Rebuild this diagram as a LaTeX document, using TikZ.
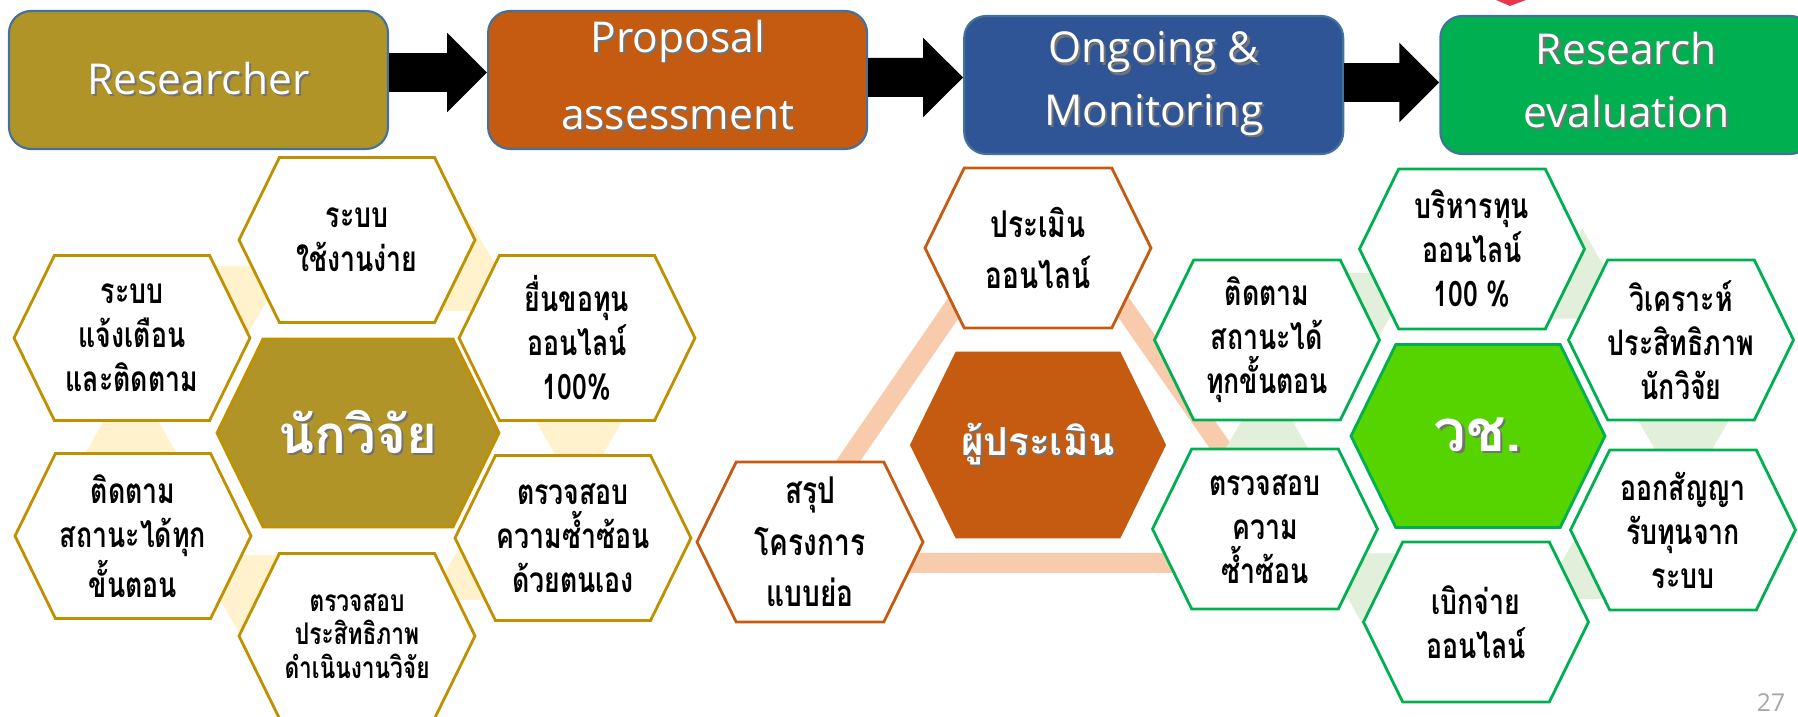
\documentclass[tikz,border=0pt]{standalone}
\usepackage{fontspec}
\newfontfamily\thaifont[Script=Thai]{Loma}
\newfontfamily\thainarrow[Script=Thai,FakeStretch=0.76]{Loma}
\newfontfamily\latinfont{Open Sans}
\usetikzlibrary{arrows.meta,calc,positioning}
\definecolor{GoldFill}{HTML}{B09428}
\definecolor{GoldLine}{HTML}{BF9000}
\definecolor{GoldPale}{HTML}{FFF2CC}
\definecolor{RustFill}{HTML}{C55A11}
\definecolor{RustPale}{HTML}{F8CBAD}
\definecolor{NavyFill}{HTML}{2F5597}
\definecolor{BoxLine}{HTML}{41719C}
\definecolor{LeafLine}{HTML}{00B050}
\definecolor{LeafFill}{HTML}{55D400}
\definecolor{LeafPale}{HTML}{E2EFDA}
\definecolor{RedMark}{HTML}{E8364F}
\pgfdeclarelayer{ring}
\pgfdeclarelayer{tiles}
\pgfsetlayers{ring,tiles,main}
\newcommand{\Shadowed}[1]{\leavevmode\rlap{\kern0.6pt\raisebox{-0.6pt}{\textcolor{black!55}{#1}}}#1}
\newcommand{\DrawHex}[4]{%
  % #1 node name, #2 half width, #3 half height, #4 style
  \begin{pgfonlayer}{tiles}
    \draw[#4] ($(#1.center)+(-#2,0)$) -- ($(#1.center)+(-#2+0.49*#3,#3)$)
      -- ($(#1.center)+(#2-0.49*#3,#3)$) -- ($(#1.center)+(#2,0)$)
      -- ($(#1.center)+(#2-0.49*#3,-#3)$) -- ($(#1.center)+(-#2+0.49*#3,-#3)$) -- cycle;
  \end{pgfonlayer}
}
\newcommand{\DrawRing}[4]{%
  % #1 hub node, #2 fill colour of the small triangles, #3 x spread, #4 y spread
  \begin{pgfonlayer}{ring}
    \foreach \dx/\dy/\s in {1.12/1.52/1,2.21/-0.03/-1,1.23/-1.37/1,-1.12/-1.52/-1,-2.27/-0.01/1,-1.23/1.37/-1}{%
      \fill[#2] ($(#1.center)+(#3*\dx,#4*\dy+0.60*\s)$) -- ($(#1.center)+(#3*\dx-0.52,#4*\dy-0.30*\s)$)
        -- ($(#1.center)+(#3*\dx+0.52,#4*\dy-0.30*\s)$) -- cycle;
    }
  \end{pgfonlayer}
}

\begin{document}
\begin{tikzpicture}[
  stagebox/.style={rounded corners=0.22cm,draw=BoxLine,line width=0.6pt,minimum width=3.79cm,
    minimum height=1.38cm,inner sep=0pt,text=white,align=center,
    font=\latinfont\fontsize{12.1}{17.9}\selectfont},
  blockarrow/.style={black,line width=0.39cm,-{Triangle[length=0.40cm,width=0.77cm]}},
  hextext/.style={align=center,inner sep=0pt,font=\thainarrow\bfseries\fontsize{10}{12.5}\selectfont},
  hubtext/.style={align=center,inner sep=0pt,text=white,font=\thaifont\bfseries\fontsize{15}{18}\selectfont},
  ytile/.style={fill=white,draw=GoldLine,line width=0.8pt},
  otile/.style={fill=white,draw=RustFill,line width=0.8pt},
  gtile/.style={fill=white,draw=LeafLine,line width=0.8pt},
  pagenum/.style={anchor=north,inner sep=0pt,text=black!35,font=\latinfont\fontsize{7}{8}\selectfont}
]
\useasboundingbox (0,0) rectangle (17.98,-7.17);

% Stage boxes along the top
\node[stagebox,fill=GoldFill] (Res) at (1.985,-0.80) {\Shadowed{Researcher}};
\node[stagebox,fill=RustFill,right=0.98cm of Res,font=\latinfont\fontsize{12.1}{21.9}\selectfont] (Prop)
  {\Shadowed{Proposal}\\\Shadowed{assessment}\vphantom{p}};
\node[stagebox,fill=NavyFill,right=0.95cm of Prop,yshift=-0.05cm] (Mon) {\Shadowed{Ongoing \&}\\\Shadowed{Monitoring}};
\node[stagebox,fill=LeafLine,right=0.95cm of Mon,minimum width=3.72cm] (Eval)
  {\Shadowed{Research}\\\Shadowed{evaluation}\vphantom{g}};

\draw[blockarrow] ([yshift=0.075cm]Res.east) -- ([yshift=0.075cm]Prop.west);
\draw[blockarrow] ([yshift=0.025cm]Prop.east) -- ([yshift=0.075cm]Mon.west);
\draw[blockarrow] ([yshift=0.025cm]Mon.east) -- ([yshift=0.025cm]Eval.west);
\fill[RedMark] (14.96,0) -- (15.26,0) -- (15.10,-0.06) -- cycle;

% Researcher cluster
\node[hubtext] (Yc) at (3.58,-4.33) {\Shadowed{นักวิจัย}};
\node[hextext] (Y1) at (3.57,-2.40) {ระบบ\\ใช้งานง่าย};
\node[hextext] (Y2) at (5.77,-3.38) {ยื่นขอทุน\\ออนไลน์\\100\%};
\node[hextext] (Y3) at (5.73,-5.38) {ตรวจสอบ\\ความซ้ำซ้อน\\ด้วยตนเอง};
\node[hextext,font=\thainarrow\bfseries\fontsize{8.5}{9.5}\selectfont] (Y4) at (3.57,-6.36) {ตรวจสอบ\\ประสิทธิภาพ\\ดำเนินงานวิจัย};
\node[hextext] (Y5) at (1.33,-5.36) {ติดตาม\\สถานะได้ทุก\\ขั้นตอน};
\node[hextext] (Y6) at (1.32,-3.38) {ระบบ\\แจ้งเตือน\\และติดตาม};
\DrawRing{Yc}{GoldPale}{1}{1}
\DrawHex{Yc}{1.41}{0.94}{fill=GoldFill,draw=GoldLine,line width=0.8pt}
\foreach \n in {1,...,6}{\DrawHex{Y\n}{1.18}{0.825}{ytile}}

% Reviewer cluster
\node[hubtext,font=\thaifont\bfseries\fontsize{11}{13}\selectfont] (Oc) at (10.38,-4.45) {\Shadowed{ผู้ประเมิน}};
\node[hextext,font=\thainarrow\bfseries\fontsize{10.5}{14.5}\selectfont] (O1) at (10.38,-2.48) {ประเมิน\\ออนไลน์};
\node[hextext,font=\thainarrow\bfseries\fontsize{10.5}{14.7}\selectfont] (O2) at (8.10,-5.42) {สรุป\\โครงการ\\แบบย่อ};
\begin{pgfonlayer}{ring}
  \draw[RustPale,line width=0.20cm,line join=round] ($(Oc.center)+(0,2.60)$) -- ($(Oc.center)+(-2.60,-1.18)$)
    -- ($(Oc.center)+(2.64,-1.18)$) -- cycle;
\end{pgfonlayer}
\DrawHex{Oc}{1.265}{0.92}{fill=RustFill,draw=RustFill,line width=0.8pt}
\DrawHex{O1}{1.13}{0.80}{otile}
\DrawHex{O2}{1.13}{0.80}{otile}

% Council cluster
\node[hubtext,font=\thaifont\bfseries\fontsize{16.5}{20}\selectfont] (Gc) at (14.78,-4.36) {\Shadowed{วช.}};
\node[hextext] (G1) at (14.72,-2.49) {บริหารทุน\\ออนไลน์\\100 \%};
\node[hextext] (G2) at (16.81,-3.40) {วิเคราะห์\\ประสิทธิภาพ\\นักวิจัย};
\node[hextext] (G3) at (16.83,-5.30) {ออกสัญญา\\รับทุนจาก\\ระบบ};
\node[hextext] (G4) at (14.76,-6.22) {เบิกจ่าย\\ออนไลน์};
\node[hextext] (G5) at (12.65,-5.29) {ตรวจสอบ\\ความ\\ซ้ำซ้อน};
\node[hextext] (G6) at (12.67,-3.40) {ติดตาม\\สถานะได้\\ทุกขั้นตอน};
\DrawRing{Gc}{LeafPale}{0.93}{0.97}
\DrawHex{Gc}{1.27}{0.915}{fill=LeafFill,draw=LeafLine,line width=0.8pt}
\foreach \n in {1,...,6}{\DrawHex{G\n}{1.125}{0.80}{gtile}}

% Slide number
\node[pagenum] (pg) at (17.71,-6.93) {27};

\end{tikzpicture}
\end{document}
